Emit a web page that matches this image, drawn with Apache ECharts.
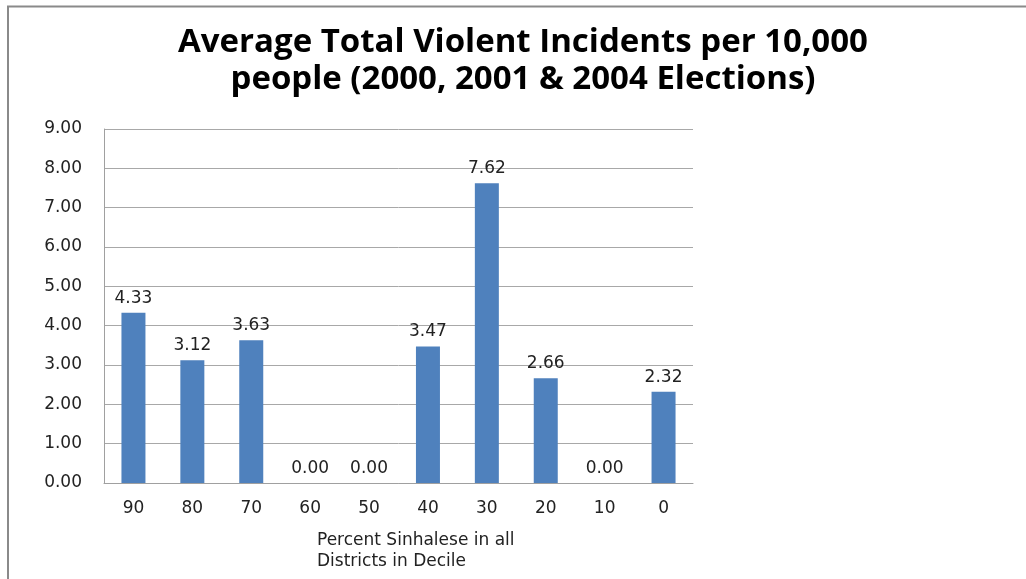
<!DOCTYPE html>
<html>
<head>
<meta charset="utf-8">
<script src="https://cdn.jsdelivr.net/npm/echarts@6/dist/echarts.min.js"></script>
<style>
html,body{margin:0;padding:0;background:#fff;}
#chart{width:1026px;height:579px;}
</style>
</head>
<body>
<div id="chart"></div>
<script>
var categories = ['90', '80', '70', '60', '50', '40', '30', '20', '10', '0'];
var values = [4.33, 3.12, 3.63, 0.00, 0.00, 3.47, 7.62, 2.66, 0.00, 2.32];
var yTicks = { min: 0, max: 9, interval: 1 };
var titleText = 'Average Total Violent Incidents per 10,000\npeople (2000, 2001 & 2004 Elections)';
var axisNameText = 'Percent Sinhalese in all\nDistricts in Decile';

var chart = echarts.init(document.getElementById('chart'), null, { renderer: 'canvas' });
chart.setOption({
  backgroundColor: '#fff',
  animation: false,
  title: {
    text: titleText,
    left: 518,
    top: 19,
    textAlign: 'center',
    textStyle: {
      fontFamily: 'Open Sans',
      fontWeight: 'bold',
      fontSize: 33,
      lineHeight: 37,
      color: '#000'
    }
  },
  graphic: [
    {
      type: 'polyline',
      shape: { points: [[8, 579], [8, 6.5], [1026, 6.5]] },
      style: { stroke: '#8a8a8a', lineWidth: 2, fill: null }
    },
    {
      type: 'text',
      left: 317,
      top: 530,
      style: {
        text: axisNameText,
        fontFamily: 'DejaVu Sans',
        fontSize: 17,
        lineHeight: 21,
        fill: '#222'
      }
    }
  ],
  grid: { left: 104, top: 129, right: 333, bottom: 96, containLabel: false },
  xAxis: {
    type: 'category',
    data: categories,
    axisLine: { show: true, lineStyle: { color: '#a0a0a0', width: 1 } },
    axisTick: { show: false },
    axisLabel: { fontFamily: 'DejaVu Sans', fontSize: 17, color: '#222', margin: 17 }
  },
  yAxis: {
    type: 'value',
    min: yTicks.min,
    max: yTicks.max,
    interval: yTicks.interval,
    axisLine: { show: true, lineStyle: { color: '#a0a0a0', width: 1 } },
    axisTick: { show: false },
    splitLine: { show: true, lineStyle: { color: '#a8a8a8', width: 1 } },
    axisLabel: {
      fontFamily: 'DejaVu Sans',
      fontSize: 17,
      color: '#222',
      margin: 22,
      formatter: function (v) { return v.toFixed(2); }
    }
  },
  series: [{
    type: 'bar',
    data: values,
    barWidth: 24,
    itemStyle: { color: '#4F81BD' },
    label: {
      show: true,
      position: 'top',
      distance: 6,
      fontFamily: 'DejaVu Sans',
      fontSize: 17,
      color: '#222',
      formatter: function (p) { return p.value.toFixed(2); }
    }
  }]
});
</script>
</body>
</html>
